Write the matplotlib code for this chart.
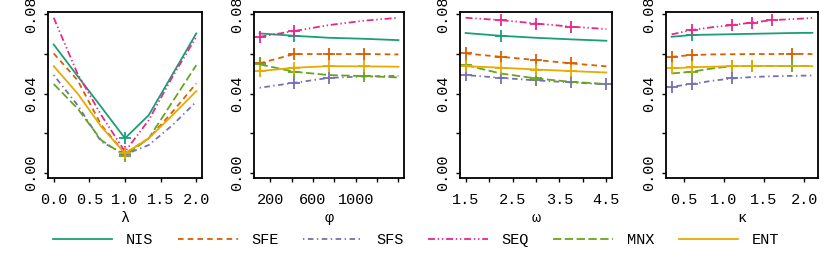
import matplotlib
matplotlib.use('Agg')
import matplotlib.pyplot as plt
from matplotlib.lines import Line2D

plt.rcParams['font.family'] = ['Liberation Mono', 'DejaVu Sans Mono']
plt.rcParams['lines.scale_dashes'] = False

methods = ['NIS', 'SFE', 'SFS', 'SEQ', 'MNX', 'ENT']
colors = ['#1B9E77', '#D95F02', '#7570B3', '#E7298A', '#66A61E', '#E6AB02']
dashes = [None, (4, 3), (1, 2.5, 4, 2.5), (5, 2, 1, 2, 1, 2), (6, 2.5), None]

# panel 1: lambda
lam = [0, 0.333, 0.667, 1.0, 1.333, 1.667, 2.0]
lam_vals = {
    'NIS': [0.0648, 0.0490, 0.0333, 0.0175, 0.0292, 0.0498, 0.0704],
    'SFE': [0.0603, 0.0469, 0.0242, 0.0099, 0.0175, 0.0309, 0.0452],
    'SFS': [0.0494, 0.0343, 0.0158, 0.0094, 0.0141, 0.0242, 0.0360],
    'SEQ': [0.0783, 0.0502, 0.0292, 0.0108, 0.0267, 0.0486, 0.0687],
    'MNX': [0.0449, 0.0326, 0.0166, 0.0087, 0.0175, 0.0360, 0.0544],
    'ENT': [0.0539, 0.0402, 0.0234, 0.0099, 0.0175, 0.0292, 0.0413],
}
lam_marks = {m: [3] for m in methods}

# panel 2: phi
phi = [100, 425, 750, 1075, 1400]
phi_vals = {
    'NIS': [0.0704, 0.0692, 0.0682, 0.0677, 0.0670],
    'SFE': [0.0553, 0.0600, 0.0600, 0.0600, 0.0598],
    'SFS': [0.0430, 0.0455, 0.0480, 0.0487, 0.0490],
    'SEQ': [0.0687, 0.0716, 0.0746, 0.0768, 0.0783],
    'MNX': [0.0548, 0.0511, 0.0494, 0.0489, 0.0482],
    'ENT': [0.0514, 0.0531, 0.0539, 0.0538, 0.0536],
}
phi_marks = {'NIS': [1], 'SFE': [0, 1, 2, 3], 'SFS': [1, 2], 'SEQ': [0, 1],
             'MNX': [0, 1, 3], 'ENT': [0, 1, 2, 3]}

# panel 3: omega
omega = [1.5, 2.25, 3.0, 3.75, 4.5]
omega_vals = {
    'NIS': [0.0706, 0.0692, 0.0682, 0.0674, 0.0667],
    'SFE': [0.0603, 0.0586, 0.0570, 0.0553, 0.0538],
    'SFS': [0.0494, 0.0480, 0.0467, 0.0457, 0.0447],
    'SEQ': [0.0783, 0.0771, 0.0754, 0.0738, 0.0726],
    'MNX': [0.0544, 0.0502, 0.0477, 0.0460, 0.0449],
    'ENT': [0.0539, 0.0531, 0.0522, 0.0514, 0.0507],
}
omega_marks = {'NIS': [1], 'SFE': [0, 1, 2, 3], 'SFS': [0, 1, 2, 3, 4],
               'SEQ': [1, 2, 3], 'MNX': [0, 2], 'ENT': [0, 1, 2, 3]}

# panel 4: kappa
kappa = [0.35, 0.6, 0.85, 1.1, 1.35, 1.6, 1.85, 2.1]
kappa_vals = {
    'NIS': [0.0687, 0.0696, 0.0698, 0.0700, 0.0702, 0.0704, 0.0706, 0.0707],
    'SFE': [0.0586, 0.0595, 0.0598, 0.0599, 0.0600, 0.0600, 0.0601, 0.0600],
    'SFS': [0.0435, 0.0449, 0.0465, 0.0477, 0.0484, 0.0488, 0.0490, 0.0492],
    'SEQ': [0.0699, 0.0721, 0.0735, 0.0746, 0.0759, 0.0771, 0.0776, 0.0782],
    'MNX': [0.0502, 0.0511, 0.0527, 0.0539, 0.0540, 0.0540, 0.0540, 0.0539],
    'ENT': [0.0528, 0.0533, 0.0536, 0.0539, 0.0540, 0.0540, 0.0540, 0.0539],
}
kappa_marks = {'NIS': [1], 'SFE': [0, 1, 6], 'SFS': [0, 1, 3],
               'SEQ': [1, 3, 4, 5], 'MNX': [1, 3, 4, 6], 'ENT': [0, 1, 3, 4]}

panels = [
    (lam, lam_vals, lam_marks, '\u03bb', (-0.08, 2.08),
     [0, 0.5, 1, 1.5, 2], ['0.0', '0.5', '1.0', '1.5', '2.0']),
    (phi, phi_vals, phi_marks, '\u03c6', (48, 1452),
     [200, 400, 600, 800, 1000, 1200, 1400],
     ['200', '', '600', '', '1000', '', '']),
    (omega, omega_vals, omega_marks, '\u03c9', (1.38, 4.62),
     [1.5, 2, 2.5, 3, 3.5, 4, 4.5],
     ['1.5', '', '2.5', '', '3.5', '', '4.5']),
    (kappa, kappa_vals, kappa_marks, '\u03ba', (0.28, 2.17),
     [0.5, 1, 1.5, 2], ['0.5', '1.0', '1.5', '2.0']),
]
boxes = [(48, 154), (254, 150), (460, 152), (666, 152)]

fig = plt.figure(figsize=(8.3, 2.6), dpi=100)
W, H = 830, 260
for (x, vals, marks, xlab, xlim, xt, xtl), (left, width) in zip(panels, boxes):
    ax = fig.add_axes([left / W, 82 / H, width / W, 166 / H])
    for m, c, d in zip(methods, colors, dashes):
        line, = ax.plot(x, vals[m], color=c, lw=1.3, marker='+',
                        markevery=marks[m], markersize=8, mew=1.3)
        if d is not None:
            line.set_dashes(d)
    ax.set_xlim(*xlim)
    ax.set_ylim(-0.0025, 0.0812)
    ax.set_xticks(xt)
    ax.set_xticklabels(xtl)
    ax.set_yticks([0, 0.02, 0.04, 0.06, 0.08])
    ax.set_yticklabels(['0.00', '', '0.04', '', '0.08'], rotation=90,
                       va='center')
    ax.tick_params(direction='out', length=3, width=1, labelsize=11,
                   pad=4)
    ax.tick_params(axis='x', pad=8)
    ax.set_xlabel(xlab, fontsize=11, labelpad=3)
    for s in ax.spines.values():
        s.set_linewidth(1.3)

leg_handles = []
for c, d in zip(colors, dashes):
    h = Line2D([], [], color=c, lw=1.3)
    if d is not None:
        h.set_dashes(d)
    leg_handles.append(h)
fig.legend(leg_handles, methods, loc='center',
           bbox_to_anchor=(416 / W, 20 / H),
           ncol=6, frameon=False, fontsize=11, handlelength=3.9,
           handletextpad=0.9, columnspacing=1.6)

fig.savefig('out.png', dpi=100)
